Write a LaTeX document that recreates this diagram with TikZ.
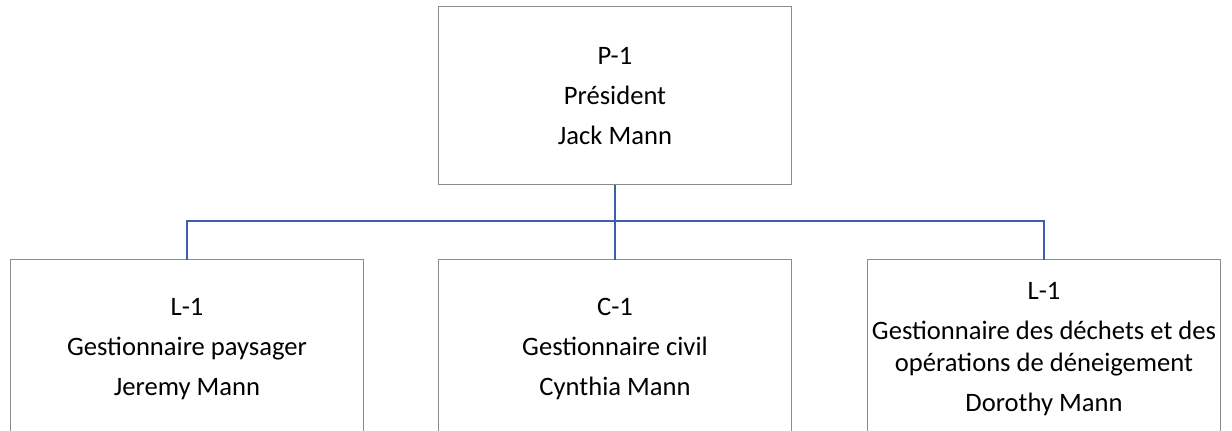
\documentclass[tikz,border=0pt]{standalone}
\usepackage{fontspec}
\setmainfont{Carlito}
\usepackage{xcolor}
\usetikzlibrary{positioning,calc}
\definecolor{boxgray}{HTML}{8C8C8C}
\definecolor{linkblue}{HTML}{3C60A8}

\begin{document}
\begin{tikzpicture}[x=0.5pt,y=-0.5pt,
  box/.style={draw=boxgray, line width=0.5pt, rectangle, inner sep=0pt, outer sep=0pt,
    minimum width=176.5pt, minimum height=89pt, align=center, font=\fontsize{13.3}{16}\selectfont},
  link/.style={draw=linkblue, line width=1pt}]
% Page frame
\path[use as bounding box] (0,0) rectangle (1232,431);
\clip (0,0) rectangle (1232,431);
% President
\node[box] (pres) at (615,96) {P-1\\[4pt] Président\\[4pt] Jack Mann};
% Managers
\node[box] (land) at (187,349) {L-1\\[4pt] Gestionnaire paysager\\[4pt] Jeremy Mann};
\node[box] (civ) at (615,349) {C-1\\[4pt] Gestionnaire civil\\[4pt] Cynthia Mann};
\node[box] (waste) at (1044,349) {L-1\\[4pt] Gestionnaire des déchets et des\\ opérations de déneigement\\[4pt] Dorothy Mann};
% Reporting lines
\coordinate (bus) at (615,221);
\draw[link] (pres.south) -- (civ.north);
\draw[link] (land.north) -- (land.north |- bus) -- (waste.north |- bus) -- (waste.north);
\end{tikzpicture}
\end{document}
